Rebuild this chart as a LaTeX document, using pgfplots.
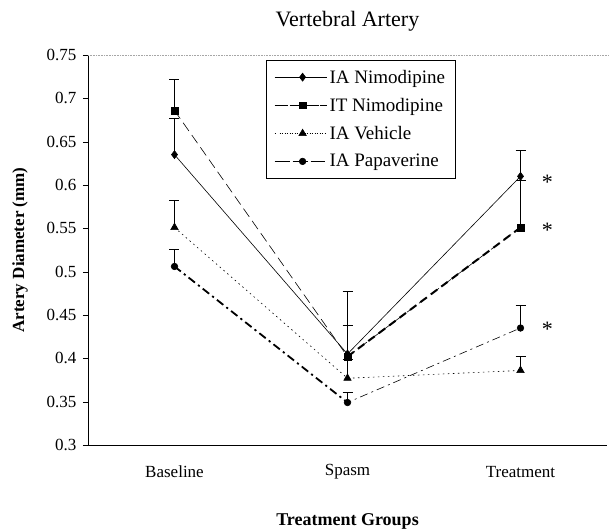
\documentclass[border=0pt]{standalone}
\usepackage{pgfplots}
\pgfplotsset{compat=1.18}
\usepackage{fontspec}
\setmainfont{Liberation Serif}
\pgfplotsset{itlegend/.style={legend image code/.code={\path (0cm,0cm) -- (1.85cm,0cm); \draw[##1, dash pattern=on 6pt off 4.5pt] (0.25cm,0cm) -- (1.72cm,0cm); \draw[##1, solid] plot coordinates {(0.985cm,0cm)};}}}
\begin{document}
\begin{tikzpicture}
\begin{axis}[
  scale only axis, width=519pt, height=390pt,
  xmin=0, xmax=3, ymin=0.3, ymax=0.75,
  axis x line*=bottom, axis y line*=left,
  axis line style={black, line width=0.6pt},
  xtick={0.5,1.5,2.5}, xticklabels={Baseline,Spasm,Treatment},
  x tick label style={font=\fontsize{17}{17}\selectfont, anchor=center, yshift=-22pt},
  xtick style={draw=none},
  extra x ticks={0,1,2,3}, extra x tick labels={},
  extra x tick style={tick style={draw=black}},
  ytick={0.3,0.35,...,0.76},
  yticklabel style={/pgf/number format/fixed, /pgf/number format/precision=2, font=\fontsize{17}{17}\selectfont, xshift=-3pt},
  /pgf/number format/assume math mode=true,
  ytick style={black}, tick align=outside, major tick length=5pt,
  ylabel={\textbf{Artery Diameter (mm)}},
  ylabel style={font=\fontsize{17}{17}\selectfont, at={(axis description cs:-0.131,0.5)}, anchor=center, rotate=0},
  xlabel={\textbf{Treatment Groups}},
  xlabel style={font=\fontsize{18}{18}\selectfont, at={(axis description cs:0.5,-0.195)}, anchor=center},
  title={Vertebral Artery},
  title style={font=\fontsize{22}{22}\selectfont, at={(axis description cs:0.5,1.072)}, anchor=center},
  legend style={at={(0.343,0.987)}, anchor=north west, draw=black, line width=0.5pt,
    font=\fontsize{19}{19}\selectfont, row sep=9.5pt, inner ysep=7.5pt, inner xsep=8pt,
    legend cell align=left},
  legend image code/.code={\path (0cm,0cm) -- (1.85cm,0cm); \draw[#1] (0.25cm,0cm) -- (1.72cm,0cm); \draw[#1, solid] plot coordinates {(0.985cm,0cm)};},
  error bars/error bar style={solid, black, line width=0.6pt},
  error bars/error mark options={rotate=90, mark size=5pt, black, solid, line width=0.6pt},
  clip=false,
]
\draw[gray!70, densely dotted, line width=0.6pt] (rel axis cs:0,1) -- (rel axis cs:1.005,1);
% IA Nimodipine
\addplot[black, line width=0.6pt, mark=diamond*, mark size=4pt, mark options={solid},
  error bars/.cd, y dir=plus, y explicit]
  coordinates {(0.5,0.635) +- (0,0.042) (1.5,0.405) +- (0,0.033) (2.5,0.610) +- (0,0.030)};
\addlegendentry{IA Nimodipine}
% IT Nimodipine
\addplot[black, line width=0.6pt, dash pattern=on 10pt off 5pt, mark=square*, mark size=3.4pt, mark options={solid},
  itlegend,
  error bars/.cd, y dir=plus, y explicit]
  coordinates {(0.5,0.686) +- (0,0.036) (1.5,0.402) +- (0,0.075) (2.5,0.551) +- (0,0.054)};
\addlegendentry{IT Nimodipine}
% IA Vehicle
\addplot[black, line width=0.6pt, dash pattern=on 1.5pt off 3.5pt, mark=triangle*, mark size=4.3pt, mark options={solid},
  error bars/.cd, y dir=plus, y explicit]
  coordinates {(0.5,0.551) +- (0,0.031) (1.5,0.377) +- (0,0.022) (2.5,0.386) +- (0,0.016)};
\addlegendentry{IA Vehicle}
% IA Papaverine
\addplot[black, line width=0.6pt, dash pattern=on 8pt off 4pt on 2pt off 4pt, mark=*, mark size=3.3pt, mark options={solid},
  error bars/.cd, y dir=plus, y explicit]
  coordinates {(0.5,0.506) +- (0,0.020) (1.5,0.349) +- (0,0.012) (2.5,0.435) +- (0,0.026)};
\addlegendentry{IA Papaverine}
% thicker segments
\addplot[black, line width=2pt, dash pattern=on 8pt off 5pt, forget plot]
  coordinates {(1.5,0.402) (2.5,0.551)};
\addplot[black, line width=1.8pt, dash pattern=on 8pt off 4pt on 2pt off 4pt, forget plot]
  coordinates {(0.5,0.506) (1.5,0.349)};
\node[font=\fontsize{22}{22}\selectfont] at (axis cs:2.655,0.603) {*};
\node[font=\fontsize{22}{22}\selectfont] at (axis cs:2.655,0.548) {*};
\node[font=\fontsize{22}{22}\selectfont] at (axis cs:2.655,0.434) {*};
\end{axis}
\pgfresetboundingbox
\path[use as bounding box] (current axis.south west) ++(-88pt,-84pt) rectangle ++(613pt,529pt);
\end{tikzpicture}
\end{document}
